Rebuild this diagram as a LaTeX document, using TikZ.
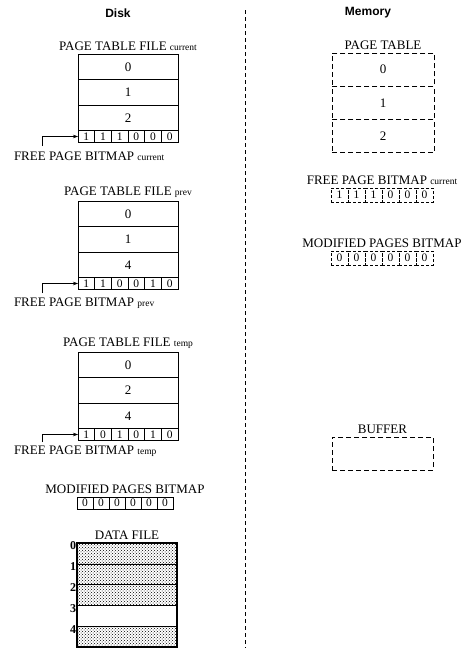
\documentclass[tikz,border=0pt]{standalone}
\usepackage{fontspec}
\setmainfont{Liberation Serif}
\newfontfamily\headfont{Liberation Sans}
\usepackage{tikz}
\usetikzlibrary{positioning, arrows.meta, patterns}

\newcommand{\vername}[1]{{\fontsize{9.5}{11}\selectfont #1}}

\begin{document}
\begin{tikzpicture}[
    x=1pt, y=-1pt,
    every node/.style={font=\fontsize{13}{15}\selectfont, inner sep=0pt, outer sep=0pt},
    head/.style={font=\headfont\bfseries\fontsize{12}{14}\selectfont},
    diskrow/.style={rectangle, draw, line width=0.8pt, minimum width=100pt, minimum height=25.5pt},
    diskbit/.style={rectangle, draw, line width=0.8pt, minimum width=16.67pt, minimum height=12pt, font=\fontsize{11.5}{12}\selectfont},
    memrow/.style={rectangle, draw, line width=1pt, dash pattern=on 5pt off 3pt, minimum width=102pt, minimum height=33.3pt},
    membit/.style={rectangle, draw, line width=0.9pt, dash pattern=on 3pt off 2pt, minimum width=17pt, minimum height=14pt, font=\fontsize{11.5}{12}\selectfont},
    datarow/.style={rectangle, draw, line width=0.6pt, minimum width=100pt, minimum height=20.8pt, pattern=crosshatch dots, pattern color=black},
    emptyrow/.style={rectangle, draw, line width=1.2pt, fill=white, minimum width=100pt, minimum height=20.8pt},
    pointer/.style={-{Stealth[length=5pt, width=3.5pt]}, line width=0.5pt},
    divider/.style={line width=0.9pt, dash pattern=on 4pt off 3pt}
]
\useasboundingbox (0,0) rectangle (463,648);

% Headings and divider
\node[head] (disk) at (118,13) {Disk};
\node[head] (memory) at (368,13) {Memory};
\coordinate (divtop) at (245,10);
\coordinate (divbottom) at (245,648);
\draw[divider] (divtop) -- (divbottom);

% Disk: page table file current
\node[diskrow] (cur0) at (128,66.75) {0};
\node[diskrow, below=0pt of cur0] (cur1) {1};
\node[diskrow, below=0pt of cur1] (cur2) {2};
\node[above=3pt of cur0] (curtitle) {PAGE TABLE FILE \vername{current}};
\foreach \b [count=\i] in {1,1,1,0,0,0}
  \node[diskbit, anchor=north west, xshift={(\i-1)*16.67pt}] (curbit\i) at (cur2.south west) {\b};
\node[anchor=west] (curlabel) at (14,156) {FREE PAGE BITMAP \vername{current}};
\coordinate (curtail) at (42,146);
\draw[pointer] (curtail) |- (curbit1.west);

% Disk: page table file prev
\node[diskrow] (prev0) at (128,213.75) {0};
\node[diskrow, below=0pt of prev0] (prev1) {1};
\node[diskrow, below=0pt of prev1] (prev2) {4};
\node[above=3pt of prev0] (prevtitle) {PAGE TABLE FILE \vername{prev}};
\foreach \b [count=\i] in {1,1,0,0,1,0}
  \node[diskbit, anchor=north west, xshift={(\i-1)*16.67pt}] (prevbit\i) at (prev2.south west) {\b};
\node[anchor=west] (prevlabel) at (14,303) {FREE PAGE BITMAP \vername{prev}};
\coordinate (prevtail) at (42,293);
\draw[pointer] (prevtail) |- (prevbit1.west);

% Disk: page table file temp
\node[diskrow] (temp0) at (128,364.75) {0};
\node[diskrow, below=0pt of temp0] (temp1) {2};
\node[diskrow, below=0pt of temp1] (temp2) {4};
\node[above=3pt of temp0] (temptitle) {PAGE TABLE FILE \vername{temp}};
\foreach \b [count=\i] in {1,0,1,0,1,0}
  \node[diskbit, anchor=north west, xshift={(\i-1)*16.67pt}] (tempbit\i) at (temp2.south west) {\b};
\node[anchor=west] (templabel) at (14,451) {FREE PAGE BITMAP \vername{temp}};
\coordinate (temptail) at (42,442);
\draw[pointer] (temptail) |- (tempbit1.west);

% Disk: modified pages bitmap
\coordinate (dmodorigin) at (77,497);
\foreach \b [count=\i] in {0,0,0,0,0,0}
  \node[diskbit, minimum width=16pt, anchor=north west, xshift={(\i-1)*16pt}] (dmodbit\i) at (dmodorigin) {\b};
\node[anchor=south] (dmodtitle) at (125,494) {MODIFIED PAGES BITMAP};

% Disk: data file
\node[datarow] (df0) at (127,553.4) {};
\node[datarow, below=0pt of df0] (df1) {};
\node[datarow, below=0pt of df1] (df2) {};
\node[emptyrow, below=0pt of df2] (df3) {};
\node[datarow, below=0pt of df3] (df4) {};
\draw[line width=1.2pt] (df0.north west) rectangle (df4.south east);
\node[above=3pt of df0] (dftitle) {DATA FILE};
\foreach \i in {0,...,4}
  \node[anchor=east, font=\bfseries\fontsize{12}{13}\selectfont] (dfnum\i) at ([xshift=-1pt, yshift=-3pt]df\i.north west) {\i};

% Memory: page table
\node[memrow] (mem0) at (383,69.7) {0};
\node[memrow, below=0pt of mem0] (mem1) {1};
\node[memrow, below=0pt of mem1] (mem2) {2};
\node[above=3pt of mem0] (memtitle) {PAGE TABLE};

% Memory: free page bitmap current
\coordinate (mfreeorigin) at (331,188);
\foreach \b [count=\i] in {1,1,1,0,0,0}
  \node[membit, anchor=north west, xshift={(\i-1)*17pt}] (mfreebit\i) at (mfreeorigin) {\b};
\node[anchor=south] (mfreetitle) at (382,185) {FREE PAGE BITMAP \vername{current}};

% Memory: modified pages bitmap
\coordinate (mmodorigin) at (331,251);
\foreach \b [count=\i] in {0,0,0,0,0,0}
  \node[membit, anchor=north west, xshift={(\i-1)*17pt}] (mmodbit\i) at (mmodorigin) {\b};
\node[anchor=south] (mmodtitle) at (382,248) {MODIFIED PAGES BITMAP};

% Memory: buffer
\node[memrow, minimum width=101pt, minimum height=33pt] (buffer) at (382.5,453.5) {};
\node[above=3pt of buffer] (buftitle) {BUFFER};

\end{tikzpicture}
\end{document}
